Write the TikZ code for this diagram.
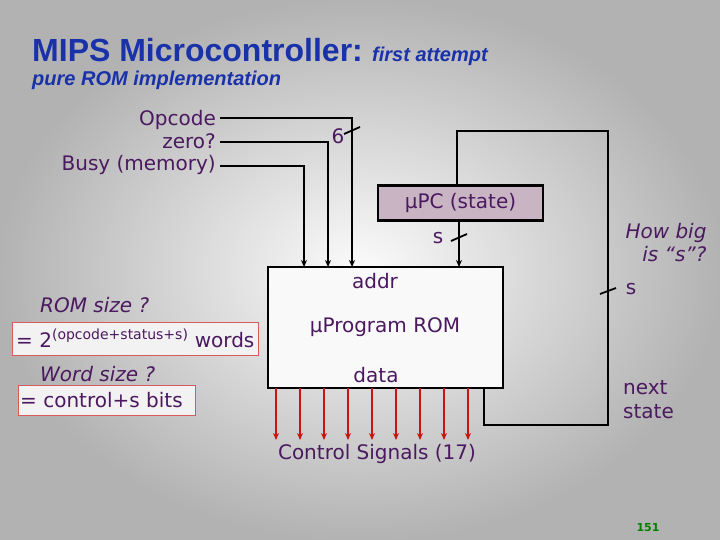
\documentclass[tikz,border=0pt]{standalone}
\usepackage{fontspec}
\setmainfont{DejaVu Sans}
\newfontfamily\titlefont{Liberation Sans}
\usetikzlibrary{arrows.meta}
\definecolor{ttl}{RGB}{25,50,170}
\definecolor{txt}{RGB}{75,25,95}
\definecolor{pcfill}{RGB}{200,180,195}
\definecolor{sig}{RGB}{200,20,20}
\begin{document}
\begin{tikzpicture}[x=1pt,y=-1pt,
  lbl/.style={text=txt,font=\fontsize{20}{23}\selectfont,inner sep=0pt},
  wire/.style={line width=2.5pt,black},
  win/.style={wire,-{Stealth[length=7pt,width=6pt]}},
  red/.style={line width=1.8pt,sig,-{Stealth[length=7pt,width=6pt]}},
  slash/.style={line width=1.8pt},
  hbox/.style={draw=sig!70,fill=white!90!gray,line width=0.8pt,inner sep=0pt}]
\useasboundingbox (0,0) rectangle (720,540);
\shade[inner color=white!97!gray,outer color=gray!60] (0,0) rectangle (720,540);
% title
\node[anchor=base west,inner sep=0pt,text=ttl,font=\titlefont\bfseries\fontsize{32}{35}\selectfont] (t1) at (32,62) {MIPS Microcontroller:};
\node[anchor=base west,inner sep=0pt,text=ttl,font=\titlefont\bfseries\itshape\fontsize{20}{23}\selectfont] (t2) at (372,62) {first attempt};
\node[anchor=base west,inner sep=0pt,text=ttl,font=\titlefont\bfseries\itshape\fontsize{20}{23}\selectfont] (t3) at (32,86) {pure ROM implementation};
% inputs text
\node[lbl,anchor=base east] (op) at (216,126) {Opcode};
\node[lbl,anchor=base east] (zr) at (216,149) {zero?};
\node[lbl,anchor=base east] (bz) at (216,171) {Busy (memory)};
% ROM
\draw[wire,fill=white!95!gray] (268,267) rectangle (503,388);
\node[lbl] (addr) at (375,281) {addr};
\node[lbl] (prog) at (385,327) {μProgram ROM};
\node[lbl] (data) at (376,375) {data};
% PC
\node[draw,line width=2.5pt,fill=pcfill,minimum width=165pt,minimum height=35pt,inner sep=0pt,text=txt,font=\fontsize{20}{23}\selectfont] (pc) at (460.5,203) {μPC (state)};
% input wires
\coordinate (a1) at (220,118); \coordinate (a2) at (352,118); \coordinate (a3) at (352,267);
\coordinate (b1) at (220,142); \coordinate (b2) at (328,142); \coordinate (b3) at (328,267);
\coordinate (c1) at (220,166); \coordinate (c2) at (304,166); \coordinate (c3) at (304,267);
\draw[win] (a1) -- (a2) -- (a3);
\draw[win] (b1) -- (b2) -- (b3);
\draw[win] (c1) -- (c2) -- (c3);
\draw[slash] (344,134) -- (360,127);
\node[lbl] (six) at (338,136) {6};
% pc to rom
\coordinate (p2) at (459,267);
\draw[win] (pc.south -| p2) -- (p2);
\draw[slash] (451,241) -- (467,234);
\node[lbl] (s1) at (438,238) {s};
% feedback
\coordinate (f0) at (484,388); \coordinate (f1) at (484,425); \coordinate (f2) at (608,425);
\coordinate (f3) at (608,131); \coordinate (f4) at (457,131);
\draw[wire] (f0) -- (f1) -- (f2) -- (f3) -- (f4) -- (pc.north -| f4);
\draw[slash] (600,294) -- (616,288);
\node[lbl] (s2) at (631,289) {s};
\node[lbl,align=left,anchor=north west] (ns) at (623,380) {next\\[1pt]state};
\node[lbl,align=right,font=\itshape\fontsize{20}{23}\selectfont] (hb) at (666,243) {How big\\is “s”?};
% control signals
\foreach \i in {0,...,8}{
  \coordinate (r\i) at (276+24*\i,388);
  \coordinate (q\i) at (276+24*\i,440);
  \draw[red] (r\i) -- (q\i);
}
\node[lbl] (cs) at (377,454) {Control Signals (17)};
% left notes
\node[lbl,anchor=base west,font=\itshape\fontsize{20}{23}\selectfont] (rs) at (40,312) {ROM size ?};
\node[hbox,minimum width=246pt,minimum height=33pt] (eq1) at (135,338.5) {};
\node[lbl,anchor=base west] (eq1t) at (16,347) {= 2\textsuperscript{\fontsize{14}{16}\selectfont(opcode+status+s)} words};
\node[lbl,anchor=base west,font=\itshape\fontsize{20}{23}\selectfont] (ws) at (40,381) {Word size ?};
\node[hbox,minimum width=177pt,minimum height=30pt] (eq2) at (106.5,400) {};
\node[lbl,anchor=base west] (eq2t) at (20,407) {= control+s bits};
\node[font=\bfseries\fontsize{11}{12}\selectfont,text=green!50!black] (pg) at (648,528) {151};
\end{tikzpicture}
\end{document}
